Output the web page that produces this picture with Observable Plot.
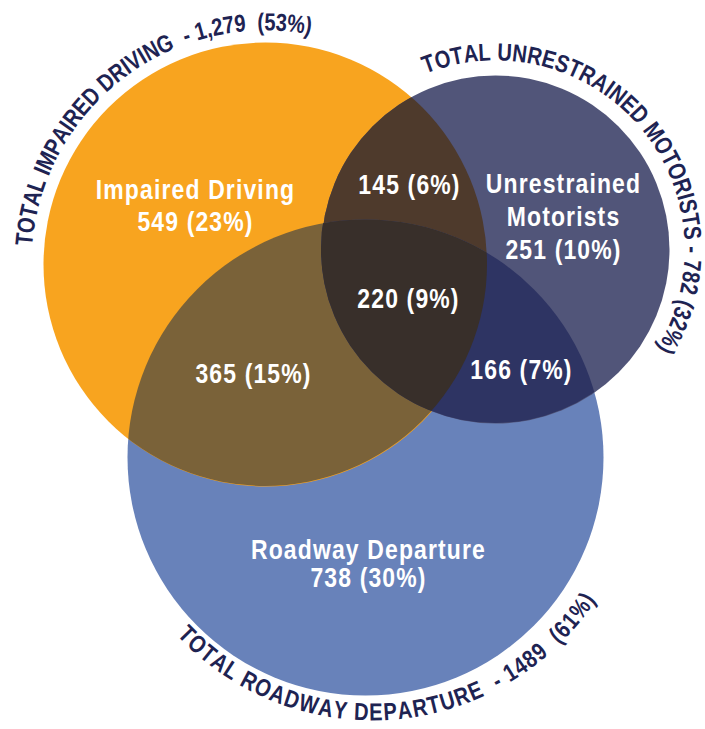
<!DOCTYPE html>
<html>
<head>
<meta charset="utf-8">
<script src="https://cdn.jsdelivr.net/npm/d3@7"></script>
<script src="https://cdn.jsdelivr.net/npm/@observablehq/plot@0.6"></script>
<style>
  html, body { margin: 0; padding: 0; background: #ffffff; }
  #chart { width: 705px; height: 729px; }
</style>
</head>
<body>
<div id="chart"></div>
<script>
// ---------------- DATA ----------------
const setNames = ["Impaired Driving", "Unrestrained Motorists", "Roadway Departure"];
const totalCaptions = ["TOTAL IMPAIRED DRIVING", "TOTAL UNRESTRAINED MOTORISTS", "TOTAL ROADWAY DEPARTURE"];
const totalCounts = ["1,279", "782", "1489"];
const totalShares = [53, 32, 61];

const regionKeys = ["ID", "UM", "RD", "ID&UM", "ID&RD", "UM&RD", "ID&UM&RD"];
const regionCounts = [549, 251, 738, 145, 365, 166, 220];
const regionShares = [23, 10, 30, 6, 15, 7, 9];
const regionNameLines = [["Impaired Driving"], ["Unrestrained", "Motorists"], ["Roadway Departure"], [], [], [], []];

// ---------------- LAYOUT (pixel geometry of the diagram) ----------------
const W = 705, H = 729;
const circleGeom = {
  ID: {cx: 265, cy: 264, r: 222},
  UM: {cx: 495, cy: 249, r: 174},
  RD: {cx: 365, cy: 457, r: 238}
};
const regionColors = {
  "ID": "#F8A41F",
  "UM": "#515579",
  "RD": "#6882BA",
  "ID&UM": "#4E3A2C",
  "ID&RD": "#7A6239",
  "UM&RD": "#2E3463",
  "ID&UM&RD": "#382F2A"
};
// label anchor: x, y of first line, line step
const labelGeom = {
  "ID": {x: 195, y: 190, step: 32},
  "UM": {x: 563, y: 184, step: 33},
  "RD": {x: 368, y: 550, step: 28},
  "ID&UM": {x: 409, y: 185, step: 0},
  "ID&RD": {x: 253, y: 374, step: 0},
  "UM&RD": {x: 521, y: 370, step: 0},
  "ID&UM&RD": {x: 408, y: 299, step: 0}
};
// caption arcs: center, radius, start & end compass angles (deg, clockwise from up)
const captionGeom = [
  {cx: 265, cy: 264, R: 242, a0: -85.5, a1: 11},
  {cx: 495, cy: 249, R: 197, a0: -21.6, a1: 121.4},
  {cx: 372, cy: 452, R: 260, a0: 227, a1: 123.4}
];
const captionSep = ["  - ", " - ", "  - "];
const captionSep2 = ["  ", " ", "  "];

const FONT = '"Liberation Sans", Arial, sans-serif';
const NAVY = "#1E2352";
const CAP_SIZE = 24.5;
const LABEL_SIZE = 28;
const CONDENSE = 0.82;   // horizontal squeeze to mimic a narrow face

// ---------------- BUILD TABLES ----------------
const setKeys = ["ID", "UM", "RD"];
const circles = setKeys.map((k, i) => ({key: k, name: setNames[i], ...circleGeom[k], color: regionColors[k]}));
const C = Object.fromEntries(circles.map(c => [c.key, c]));

const labelLines = [];
regionKeys.forEach((k, i) => {
  const lines = [...regionNameLines[i], `${regionCounts[i]} (${regionShares[i]}%)`];
  const g = labelGeom[k];
  lines.forEach((t, j) => labelLines.push({text: t, x: g.x, y: g.y + j * g.step}));
});

const canvas = document.createElement("canvas");
const ctx = canvas.getContext("2d");
ctx.font = `bold ${CAP_SIZE}px ${FONT}`;

function arcChars(text, g) {
  const chars = [...text];
  const widths = chars.map(ch => ctx.measureText(ch).width * CONDENSE);
  const total = d3.sum(widths);
  const L = Math.abs(g.a1 - g.a0) * Math.PI / 180 * g.R;
  const gap = (L - total) / (chars.length - 1);
  const dir = Math.sign(g.a1 - g.a0);
  let s = 0;
  return chars.map((ch, i) => {
    const mid = s + widths[i] / 2;
    s += widths[i] + gap;
    const ang = g.a0 + dir * (mid / g.R) * 180 / Math.PI;
    const rad = ang * Math.PI / 180;
    return {ch, x: g.cx + g.R * Math.sin(rad), y: g.cy - g.R * Math.cos(rad), rotate: dir > 0 ? ang : ang - 180};
  });
}
const captionChars = totalCaptions.flatMap((cap, i) =>
  arcChars(`${cap}${captionSep[i]}${totalCounts[i]}${captionSep2[i]}(${totalShares[i]}%)`, captionGeom[i]));

const NS = "http://www.w3.org/2000/svg";
// clip a mark to the intersection of given circles
let clipCounter = 0;
function clipTo(clipCircles) {
  return function (index, scales, values, dimensions, context, next) {
    const g = next(index, scales, values, dimensions, context);
    const wrap = document.createElementNS(NS, "g");
    const defs = document.createElementNS(NS, "defs");
    wrap.appendChild(defs);
    let inner = g;
    for (const c of clipCircles) {
      const id = "venn-clip-" + (clipCounter++);
      const cp = document.createElementNS(NS, "clipPath");
      cp.setAttribute("id", id);
      const circ = document.createElementNS(NS, "circle");
      circ.setAttribute("cx", scales.x(c.cx));
      circ.setAttribute("cy", scales.y(c.cy));
      circ.setAttribute("r", c.r);
      cp.appendChild(circ);
      defs.appendChild(cp);
      const holder = document.createElementNS(NS, "g");
      holder.setAttribute("clip-path", `url(#${id})`);
      holder.appendChild(inner);
      inner = holder;
    }
    wrap.appendChild(inner);
    return wrap;
  };
}
// squeeze each text horizontally in its own frame (narrow-font look)
function condensed(k, spacing) {
  return function (index, scales, values, dimensions, context, next) {
    const g = next(index, scales, values, dimensions, context);
    if (spacing) g.style.letterSpacing = spacing;
    const X = values.x, Y = values.y, R = values.rotate;
    const texts = Array.from(g.children).filter(e => e.tagName.toLowerCase() === "text");
    if (!X || !Y || texts.length !== index.length) return g;
    texts.forEach((t, j) => {
      const i = index[j];
      t.setAttribute("transform",
        `translate(${X[i]},${Y[i]})${R ? ` rotate(${R[i]})` : ""} scale(${k},1)`);
    });
    return g;
  };
}

const dotOpts = (fill) => ({x: "cx", y: "cy", r: "r", fill, stroke: null});

const plot = Plot.plot({
  width: W,
  height: H,
  margin: 0,
  x: {domain: [0, W], range: [0, W], axis: null},
  y: {domain: [0, H], range: [0, H], axis: null},
  r: {type: "identity"},
  style: {fontFamily: FONT, background: "#ffffff"},
  marks: [
    Plot.dot(circles, dotOpts("color")),
    Plot.dot([C.UM], {...dotOpts(regionColors["ID&UM"]), render: clipTo([C.ID])}),
    Plot.dot([C.RD], {...dotOpts(regionColors["ID&RD"]), render: clipTo([C.ID])}),
    Plot.dot([C.RD], {...dotOpts(regionColors["UM&RD"]), render: clipTo([C.UM])}),
    Plot.dot([C.RD], {...dotOpts(regionColors["ID&UM&RD"]), render: clipTo([C.ID, C.UM])}),
    Plot.text(labelLines, {
      x: "x", y: "y", text: "text", fill: "#ffffff",
      fontSize: LABEL_SIZE, fontWeight: "bold", fontFamily: FONT,
      textAnchor: "middle", lineAnchor: "middle",
      render: condensed(CONDENSE, "1.4px")
    }),
    Plot.text(captionChars, {
      x: "x", y: "y", text: "ch", rotate: "rotate", fill: NAVY,
      fontSize: CAP_SIZE, fontWeight: "bold", fontFamily: FONT,
      textAnchor: "middle", lineAnchor: "middle",
      render: condensed(CONDENSE)
    })
  ]
});
document.getElementById("chart").appendChild(plot);
</script>
</body>
</html>
